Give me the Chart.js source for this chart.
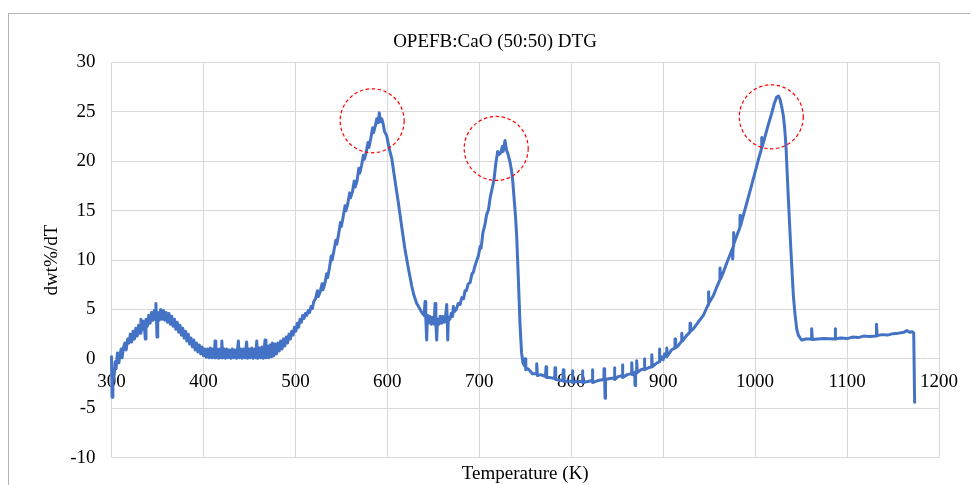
<!DOCTYPE html>
<html>
<head>
<meta charset="utf-8">
<title>OPEFB:CaO (50:50) DTG</title>
<script src="https://cdn.jsdelivr.net/npm/chart.js@4/dist/chart.umd.min.js"></script>
<style>
  html, body { margin: 0; padding: 0; background: #fff; }
  #DtgChart { display: block; }
</style>
</head>
<body>
<canvas id="DtgChart" width="970" height="485"></canvas>
<script>
// temperature (K), region by region
const temperatureK = [
  // 300-405: moisture hump
  300, 300.6, 301.5, 303, 304, 305, 306.5, 308, 309, 310.5,
  311.5, 313, 314.5, 316, 317.5, 319, 320.5, 322, 323.5, 325,
  326.5, 328, 329.5, 331, 332, 333, 334.5, 336, 336.8, 337.5,
  339, 340.5, 342, 343.5, 345, 346.5, 347.5, 348.3, 349, 349.5,
  350.3, 352, 353.5, 355, 356.5, 358, 359.5, 361, 362.5, 364,
  365.5, 367, 368.5, 370, 371.5, 373, 374.5, 376, 377.5, 379,
  380.5, 382, 383.5, 385, 386.5, 388, 389.5, 391, 392.5, 394,
  395.5, 397, 398.5, 400, 401.5, 403, 404.5,
  // 406-520: flat band, then rise
  406, 407.5, 409, 410.5, 412, 412.6, 413.5, 415, 416.5, 418,
  419.5, 420, 421, 422.5, 424, 425.5, 427, 428.5, 430, 431.5,
  433, 434.5, 436, 438, 439, 440.5, 442, 443.5, 445, 447,
  448, 449.5, 451, 452.5, 454, 455.5, 457, 458, 459, 460.5,
  462, 463.5, 465, 467, 468, 469.5, 471, 472.5, 474, 475,
  476.5, 478, 479.5, 481, 482.5, 484, 485.5, 487, 488.5, 490,
  491.5, 493, 494.5, 496, 497.5, 499, 500.5, 502, 503.5, 505,
  506.5, 508, 509.5, 511, 512.5, 514, 515.5, 517, 518.5, 520,
  // 522-640: first peak
  522, 524, 525, 527, 529, 530, 532, 534, 535, 537,
  539, 540, 542, 544, 545, 547, 549, 550, 552, 554,
  555, 557, 559, 560, 562, 564, 565, 567, 569, 570,
  572, 574, 575, 577, 579, 580, 582, 584, 585, 587,
  588.5, 590, 591.3, 592.5, 594, 595.6, 597, 599.3, 602, 604.8,
  608.4, 612, 615.6, 619, 622.8, 626.5, 629, 632, 634.5, 637.4,
  640,
  // 641-748: trough and second peak
  641, 641.8, 642.8, 643.6, 645, 646.5, 648, 649.5, 651, 651.9,
  652.8, 653.7, 654.6, 656, 657.5, 659, 660.5, 662, 663.5, 664.6,
  665.2, 665.7, 666.4, 668, 669.5, 671, 671.8, 673, 675, 677,
  679, 681, 683, 684.5, 686, 688, 690, 692, 693.5, 695,
  697, 699, 701, 702, 704, 706, 708, 710, 712, 714.6,
  716, 718, 720, 721.5, 723.6, 725, 726, 727, 728, 729.5,
  731.6, 733.5, 735, 736.5, 738, 739.5, 740.7, 742.5, 744.3, 746,
  747.5,
  // 749-907: negative dip with spikes
  749, 749.8, 750.6, 753, 756, 757.5, 762, 762.5, 763.2, 767,
  772, 772.6, 773.3, 777, 782, 782.4, 783.1, 787, 791, 791.4,
  792.1, 796, 801, 801.2, 801.9, 806, 812, 812.1, 812.8, 818,
  822.8, 822.9, 823.6, 829, 835.5, 835.7, 836.4, 836.8, 837.3, 842,
  846.8, 846.9, 847.6, 851, 855.5, 855.6, 856.3, 861, 865.7, 865.8,
  866.5, 869, 869.4, 870, 871.1, 871.2, 871.9, 876, 879.4, 879.5,
  880.2, 884, 887.5, 887.6, 888.3, 892, 895.7, 895.8, 896.5, 898,
  900, 901.5, 903.8, 903.9, 904.6, 907,
  // 909-1049: third peak
  909, 912.8, 912.9, 913.6, 917, 920.1, 920.2, 920.9, 925, 929.1,
  929.2, 929.9, 933, 938, 943.7, 949, 949.1, 949.8, 954.6, 958,
  961.7, 961.8, 962.5, 965.4, 970, 975.5, 975.6, 976.2, 976.3, 977,
  981, 983.5, 983.6, 984.3, 987, 991, 996, 1000, 1003.5, 1007.1,
  1007.2, 1007.9, 1010.8, 1014, 1018, 1021, 1023.5, 1025.5, 1027, 1029,
  1030.7, 1032, 1033.6, 1036, 1038.7, 1041.6, 1043.4, 1045.3, 1047, 1049,
  // 1050-1174: plateau and end drop
  1050.7, 1055, 1061.4, 1061.5, 1062.2, 1068, 1075, 1086.9, 1087, 1087.7,
  1093, 1100, 1106, 1112, 1118, 1124, 1131.9, 1132, 1132.7, 1138,
  1144, 1150, 1156, 1162, 1165, 1168, 1171, 1172.5, 1173.5,
];

// dwt%/dT at the same points
const dwtPerK = [
  0.2, -3.9, -2.5, -1.6, -0.3, -1.0, 0.6, -0.4, 0.3, 1.0,
  0.1, 1.1, 1.6, 0.9, 2.0, 1.6, 2.5, 1.7, 2.8, 2.0,
  3.1, 2.3, 3.4, 2.6, 4.0, 2.9, 3.8, 3.0, 2.0, 4.0,
  3.3, 4.4, 3.6, 4.7, 3.9, 4.9, 4.0, 5.6, 3.8, 2.2,
  4.7, 3.9, 5.0, 4.0, 4.9, 3.9, 4.7, 3.7, 4.6, 3.5,
  4.3, 3.3, 4.0, 3.0, 3.7, 2.7, 3.4, 2.4, 3.1, 2.1,
  2.8, 1.8, 2.5, 1.5, 2.1, 1.2, 1.9, 0.9, 1.6, 0.7,
  1.4, 0.5, 1.2, 0.3, 1.0, 0.15, 1.0,

  0.1, 1.1, 0.1, 1.0, 0.1, 1.8, 0.1, 1.0, 0.05, 1.0,
  0.1, 1.8, 0.1, 1.0, 0.05, 1.0, 0.1, 0.9, 0.05, 1.0,
  0.1, 0.9, 0.05, 1.8, 0.1, 1.0, 0.05, 1.0, 0.1, 1.7,
  0.05, 1.0, 0.1, 1.1, 0.05, 1.0, 0.1, 1.8, 0.05, 1.1,
  0.1, 1.2, 0.05, 1.9, 0.1, 1.3, 0.1, 1.4, 0.2, 1.6,
  0.3, 1.5, 0.5, 1.6, 0.8, 1.8, 1.0, 2.0, 1.3, 2.2,
  1.6, 2.5, 2.0, 2.8, 2.4, 3.2, 2.8, 3.6, 3.2, 4.0,
  3.7, 4.4, 4.1, 4.6, 4.4, 4.9, 4.7, 5.3, 5.1, 5.8,

  6.1, 6.9, 6.3, 6.8, 7.6, 7.0, 7.6, 8.6, 8.2, 9.2,
  10.4, 10.0, 11.0, 12.0, 11.6, 12.6, 13.8, 13.4, 14.4, 15.5,
  15.0, 15.7, 16.8, 16.3, 16.9, 18.0, 17.4, 18.0, 19.3, 18.8,
  19.6, 20.6, 20.2, 20.9, 21.9, 21.4, 22.3, 23.4, 22.9, 23.6,
  24.3, 23.9, 24.9, 24.0, 24.3, 23.7, 23.0, 22.6, 21.3, 20.3,
  18.0, 15.8, 13.4, 11.2, 9.2, 7.4, 6.4, 5.6, 5.2, 4.7,
  4.4,

  5.8, 4.2, 1.9, 4.4, 3.6, 4.3, 3.5, 4.2, 3.5, 5.6,
  3.6, 1.9, 4.0, 3.5, 4.3, 3.6, 4.3, 3.7, 4.4, 5.5,
  3.8, 1.9, 4.2, 4.0, 4.6, 4.3, 5.3, 4.8, 5.0, 5.6,
  5.5, 6.2, 6.1, 6.9, 6.9, 7.6, 7.7, 8.6, 8.75, 9.3,
  9.9, 10.4, 11.4, 11.2, 12.8, 13.5, 14.6, 15.1, 16.4, 17.5,
  18.1, 19.8, 21.0, 20.7, 20.9, 21.5, 21.0, 21.6, 22.1, 21.2,
  20.6, 19.9, 19.1, 17.9, 16.1, 14.3, 12.4, 8.1, 3.5, 0.6,
  -0.4,

  -0.7, 0.0, -1.1, -1.0, -1.3, -1.5, -1.5, -0.5, -1.7, -1.6,
  -1.8, -0.8, -1.9, -1.9, -2.0, -0.9, -2.1, -2.15, -2.2, -1.1,
  -2.3, -2.25, -2.3, -1.2, -2.4, -2.3, -2.3, -1.2, -2.4, -2.3,
  -2.2, -1.1, -2.4, -2.2, -2.1, -1.0, -2.2, -4.0, -2.1, -2.0,
  -1.95, -0.9, -2.1, -1.8, -1.7, -0.6, -1.9, -1.6, -1.5, -0.4,
  -1.6, -1.4, -2.7, -1.3, -1.3, -0.2, -1.4, -1.1, -1.0, 0.0,
  -1.1, -0.9, -0.8, 0.4, -0.8, -0.5, -0.3, 1.0, -0.3, 0.2,
  -0.1, 0.5, 0.2, 1.1, 0.3, 0.6,

  0.9, 1.1, 2.0, 1.1, 1.4, 1.8, 2.6, 1.8, 2.3, 2.7,
  3.6, 2.8, 3.05, 3.7, 4.4, 5.5, 6.8, 5.6, 6.4, 7.2,
  8.0, 9.2, 8.1, 8.75, 9.9, 11.2, 10.1, 11.4, 12.8, 11.6,
  12.7, 13.3, 14.5, 13.5, 14.45, 15.8, 17.5, 18.9, 20.15, 21.3,
  22.4, 21.5, 22.5, 23.6, 24.85, 25.9, 26.5, 26.6, 26.3, 25.5,
  24.6, 23.5, 21.5, 16.5, 11.4, 6.4, 4.5, 3.0, 2.4, 2.1,

  1.9, 2.0, 2.0, 3.05, 1.95, 2.0, 2.05, 2.0, 3.05, 2.0,
  2.1, 2.05, 2.2, 2.15, 2.3, 2.25, 2.3, 3.5, 2.35, 2.45,
  2.4, 2.55, 2.6, 2.7, 2.85, 2.7, 2.75, 2.6, -4.4,
];

const xTicks = [300, 400, 500, 600, 700, 800, 900, 1000, 1100, 1200];
const yTicks = [-10, -5, 0, 5, 10, 15, 20, 25, 30];

// red dashed circles marking the three peaks (data units)
const peakCircleT = [583.5, 718.4, 1017.6];
const peakCircleDwt = [24.1, 21.3, 24.5];

if (temperatureK.length !== dwtPerK.length) {
  throw new Error("length mismatch " + temperatureK.length + " vs " + dwtPerK.length);
}

const serif = "'Liberation Serif', 'Times New Roman', serif";
const gridColor = "#d9d9d9";

const chartFrame = {
  id: "chartFrame",
  beforeDraw(chart) {
    const { ctx } = chart;
    ctx.save();
    ctx.fillStyle = "#fff";
    ctx.fillRect(0, 0, chart.width, chart.height);
    ctx.strokeStyle = "#b3b3b3";
    ctx.lineWidth = 1;
    ctx.strokeRect(8.5, 13.5, chart.width, chart.height);
    ctx.restore();
  },
};

const peakCircles = {
  id: "peakCircles",
  afterDatasetsDraw(chart) {
    const { ctx, scales: { x, y } } = chart;
    ctx.save();
    ctx.strokeStyle = "#ff0000";
    ctx.lineWidth = 1.2;
    ctx.setLineDash([3.5, 2.5]);
    peakCircleT.forEach((t, i) => {
      ctx.beginPath();
      ctx.arc(x.getPixelForValue(t), y.getPixelForValue(peakCircleDwt[i]), 32, 0, Math.PI * 2);
      ctx.stroke();
    });
    ctx.restore();
  },
};

const points = temperatureK.map((t, i) => ({ x: t, y: dwtPerK[i] }));

new Chart(document.querySelector("#DtgChart"), {
  type: "scatter",
  data: {
    datasets: [
      {
        data: points,
        showLine: true,
        borderColor: "#4472c4",
        borderWidth: 3,
        borderJoinStyle: "round",
        borderCapStyle: "round",
        pointRadius: 0,
        tension: 0,
        clip: false,
      },
    ],
  },
  options: {
    responsive: false,
    animation: false,
    layout: { padding: { top: 30.6, right: 0, bottom: 0, left: 20 } },
    plugins: {
      legend: { display: false },
      tooltip: { enabled: false },
      title: {
        display: true,
        text: "OPEFB:CaO (50:50) DTG",
        color: "#000",
        font: { family: serif, size: 19, weight: "normal", lineHeight: 1.2 },
        padding: { top: 0, bottom: 9.1 },
      },
      subtitle: {
        display: true,
        position: "bottom",
        fullSize: false,
        text: "Temperature (K)",
        color: "#000",
        font: { family: serif, size: 19, weight: "normal", lineHeight: 1 },
        padding: { top: 7, bottom: 0 },
      },
    },
    scales: {
      x: {
        type: "linear",
        position: { y: 0 },
        min: 300,
        max: 1200,
        afterBuildTicks: (scale) => {
          scale.ticks = xTicks.map((value) => ({ value }));
        },
        grid: { color: gridColor, drawTicks: false },
        border: { display: false },
        ticks: {
          padding: 12,
          color: "#000",
          autoSkip: false,
          maxRotation: 0,
          font: { family: serif, size: 19 },
          callback: (value) => String(value),
        },
      },
      y: {
        type: "linear",
        position: "left",
        min: -10,
        max: 30,
        afterBuildTicks: (scale) => {
          scale.ticks = yTicks.map((value) => ({ value }));
        },
        afterFit: (scale) => {
          scale.width = 91.5;
        },
        grid: { color: gridColor, drawTicks: false },
        border: { display: false },
        ticks: {
          padding: 16,
          color: "#000",
          font: { family: serif, size: 19 },
          callback: (value) => String(value),
        },
        title: {
          display: true,
          text: "dwt%/dT",
          color: "#000",
          font: { family: serif, size: 19, lineHeight: 1.2 },
          padding: { top: 21, bottom: 0 },
        },
      },
      // empty right gutter so the plot ends where the reference does
      rightGap: {
        type: "linear",
        position: "right",
        grid: { display: false },
        border: { display: false },
        ticks: { display: false },
        afterFit: (scale) => {
          scale.width = 31;
        },
      },
    },
  },
  plugins: [chartFrame, peakCircles],
});
</script>
</body>
</html>
